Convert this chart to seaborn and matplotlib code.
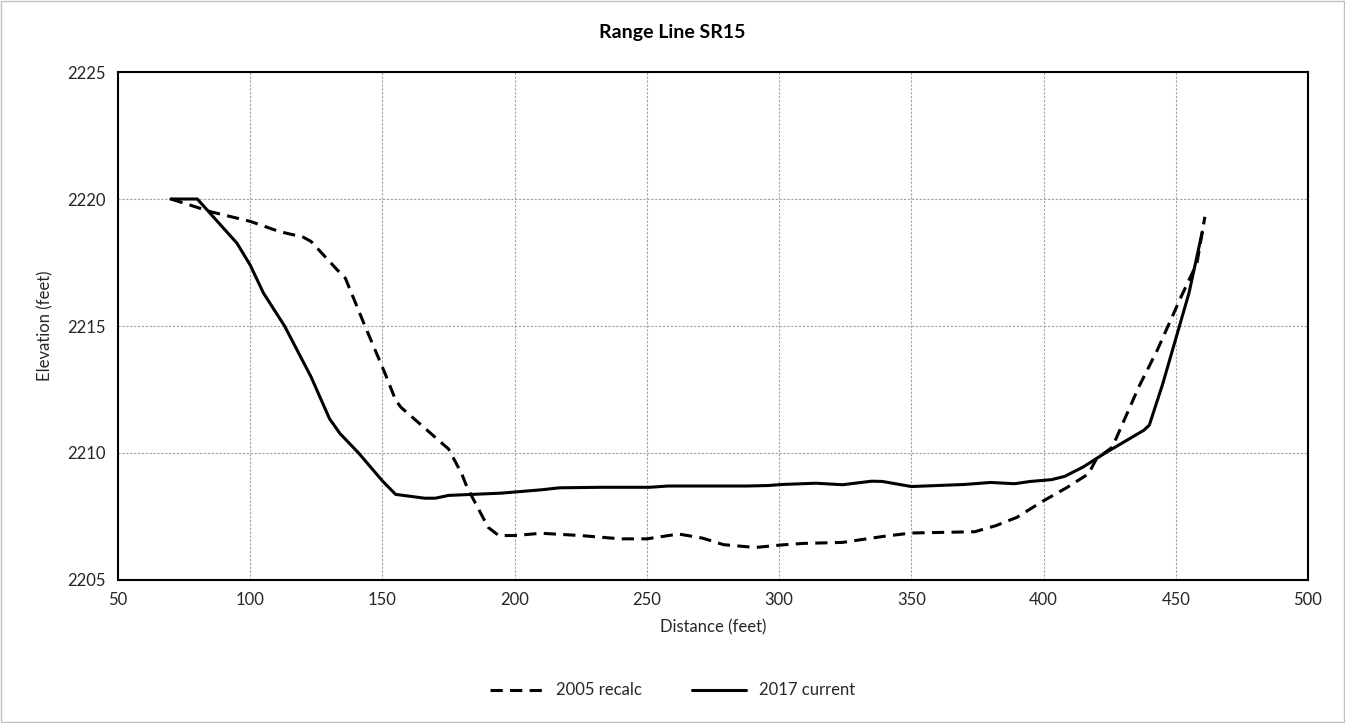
import numpy as np
import pandas as pd
import matplotlib
matplotlib.use("Agg")
import matplotlib.pyplot as plt
import seaborn as sns
from matplotlib.patches import Rectangle

# 2005 recalc survey
dist_2005 = [70, 77, 85, 100, 111, 120, 123, 133, 136, 143, 151, 155, 157, 175, 180,
             182, 190, 194, 200, 210, 225, 240, 250, 262, 271, 279, 291, 301, 309,
             324, 339, 350, 374, 382, 390, 399, 409, 417, 420, 426, 436, 443, 452, 458, 461]
elev_2005 = [2220.0, 2219.77, 2219.5, 2219.12, 2218.72, 2218.5, 2218.33, 2217.2, 2216.88,
             2215.1, 2213.13, 2212.08, 2211.8, 2210.16, 2209.18, 2208.65, 2207.07, 2206.75,
             2206.75, 2206.84, 2206.75, 2206.62, 2206.62, 2206.81, 2206.65, 2206.39, 2206.28,
             2206.38, 2206.44, 2206.48, 2206.71, 2206.85, 2206.9, 2207.14, 2207.47, 2208.06,
             2208.65, 2209.18, 2209.77, 2210.23, 2212.6, 2214.05, 2216.15, 2217.47, 2219.3]

# 2017 current survey
dist_2017 = [70, 80, 95, 100, 105, 113, 115, 123, 130, 134, 141, 150, 155, 166, 170, 175,
             195, 210, 217, 233, 251, 258, 288, 296, 301, 314, 324, 335, 339, 350, 360,
             370, 380, 389, 395, 403, 408, 415, 423, 438, 440, 445, 450, 455, 460]
elev_2017 = [2220.0, 2220.0, 2218.26, 2217.4, 2216.3, 2215.0, 2214.6, 2213.0, 2211.35,
             2210.76, 2210.0, 2208.9, 2208.37, 2208.22, 2208.22, 2208.33, 2208.42, 2208.55,
             2208.63, 2208.65, 2208.65, 2208.7, 2208.7, 2208.72, 2208.76, 2208.81, 2208.75,
             2208.89, 2208.88, 2208.68, 2208.72, 2208.76, 2208.84, 2208.79, 2208.88, 2208.95,
             2209.08, 2209.45, 2209.98, 2210.9, 2211.1, 2212.7, 2214.5, 2216.3, 2218.7]

df = pd.concat([
    pd.DataFrame({"Distance": dist_2005, "Elevation": elev_2005, "Survey": "2005 recalc"}),
    pd.DataFrame({"Distance": dist_2017, "Elevation": elev_2017, "Survey": "2017 current"}),
])

sns.set_style("white")
plt.rcParams["font.family"] = ["Lato", "DejaVu Sans"]

fig = plt.figure(figsize=(13.45, 7.23), dpi=100)
ax = fig.add_axes([0.0877, 0.1978, 0.8848, 0.7026])

sns.lineplot(data=df, x="Distance", y="Elevation", style="Survey",
             dashes={"2005 recalc": (4, 2.4), "2017 current": ""},
             color="black", linewidth=2.2, sort=False, estimator=None, ax=ax)

ax.set_xlim(50, 500)
ax.set_ylim(2205, 2225)
ax.set_xticks(np.arange(50, 501, 50))
ax.set_yticks(np.arange(2205, 2226, 5))
ax.grid(True, color="#a0a0a0", linestyle=(0, (2, 1.5)), linewidth=0.8)
for s in ax.spines.values():
    s.set_visible(True)
    s.set_color("black")
    s.set_linewidth(1.5)
ax.tick_params(axis="both", direction="out", length=5, width=1, color="#404040",
               labelsize=12, colors="#262626")
ax.tick_params(axis="both", colors="black", labelcolor="#262626")

ax.set_xlabel("Distance (feet)", fontsize=12, labelpad=8, color="#262626")
ax.set_ylabel("Elevation (feet)", fontsize=12, labelpad=10, color="#262626")
fig.text(0.5, 0.955, "Range Line SR15", ha="center", va="center",
         fontsize=14, fontweight="bold", color="black")

handles, labels = ax.get_legend_handles_labels()
ax.legend_.remove()
fig.legend(handles, labels, loc="center", bbox_to_anchor=(0.5, 0.045), ncol=2,
           frameon=False, fontsize=12, handlelength=3.2, columnspacing=3)

fig.patches.append(Rectangle((0.001, 0.001), 0.998, 0.997, transform=fig.transFigure,
                             fill=False, edgecolor="#bfbfbf", linewidth=1))

fig.savefig("out.png", dpi=100)
